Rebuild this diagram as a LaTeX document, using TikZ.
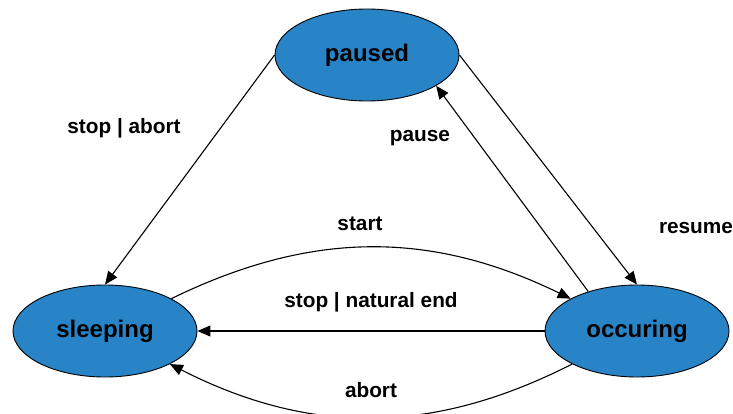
\documentclass[tikz,border=0pt]{standalone}
\usepackage{fontspec}
\setmainfont{Liberation Sans}
\usetikzlibrary{arrows.meta, shapes.geometric}
\definecolor{cstate}{HTML}{2884C6}
\tikzset{
  state/.style={ellipse, draw=black, fill=cstate, line width=0.9pt, minimum width=184pt, minimum height=92pt, inner sep=0pt, font=\fontsize{24}{28}\selectfont\bfseries},
  arrow/.style={-{Triangle[length=13pt, width=11pt]}, draw=black, line width=1.1pt},
  lbl/.style={font=\fontsize{20.8}{24}\selectfont\bfseries},
}

\begin{document}
\begin{tikzpicture}[x=1pt, y=1pt]
  \useasboundingbox (0, 0) rectangle (733, 413);
  % states
  \node[state] (paused) at (367, 358) {paused};
  \node[state] (sleeping) at (105, 82) {sleeping};
  \node[state] (occuring) at (637, 82) {occuring};
  % transitions
  \draw[arrow] (paused.west) -- (sleeping.north);
  \draw[arrow] (occuring.141) -- (paused.-24);
  \draw[arrow] (paused.east) -- (occuring.north);
  \draw[arrow] (sleeping) to[bend left=26] (occuring);
  \draw[arrow] (occuring) -- (sleeping);
  \draw[arrow] (occuring) to[bend left=27] (sleeping);
  % labels
  \node[lbl] (lstopabort) at (124, 285) {stop | abort};
  \node[lbl] (lpause) at (420, 275) {pause};
  \node[lbl] (lstart) at (360, 189) {start};
  \node[lbl] (lresume) at (696, 185) {resume};
  \node[lbl] (lstopend) at (371, 111) {stop | natural end};
  \node[lbl] (labort) at (371, 23) {abort};
\end{tikzpicture}
\end{document}
